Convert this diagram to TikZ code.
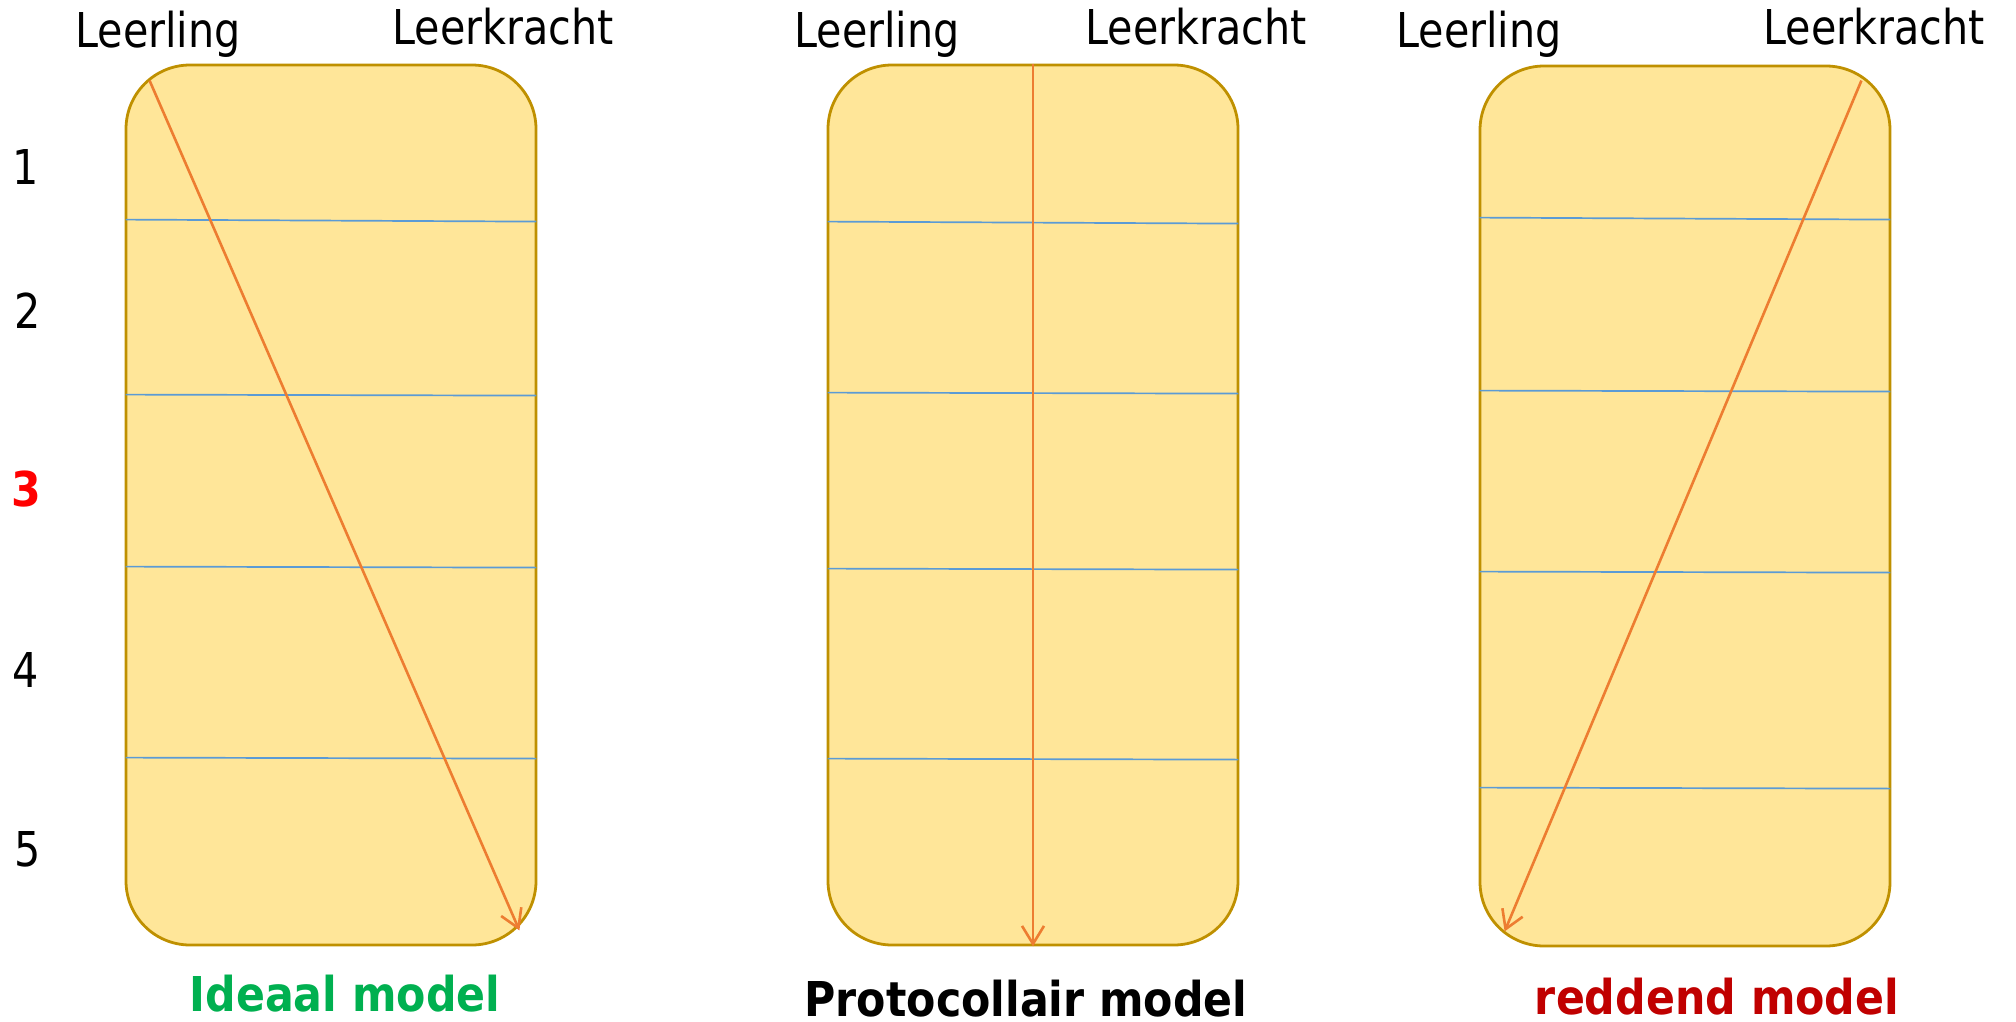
\documentclass[tikz,border=0pt]{standalone}
\usepackage{fontspec}
\setmainfont{DejaVu Sans}[FakeStretch=0.86]
\newfontfamily\modelfont{DejaVu Sans}[FakeStretch=0.89]
\usetikzlibrary{arrows.meta,calc}
\definecolor{boxfill}{HTML}{FFE699}
\definecolor{boxline}{HTML}{BF9000}
\definecolor{sepline}{HTML}{5B9BD5}
\definecolor{arrowc}{HTML}{ED7D31}
\definecolor{goodgreen}{HTML}{00B050}
\definecolor{darkred}{HTML}{C00000}

\begin{document}
\begin{tikzpicture}[x=1pt,y=-1pt,>={Straight Barb[length=18pt,width=22pt]}]
\tikzstyle{model} = [rectangle, draw=boxline, fill=boxfill, line width=2.8pt, rounded corners=64pt, minimum width=410pt, minimum height=880pt, inner sep=0pt]
\tikzstyle{role} = [font=\fontsize{48}{58}\selectfont, anchor=base, inner sep=0pt]
\tikzstyle{phase} = [font=\fontsize{48}{58}\selectfont, inner sep=0pt]
\tikzstyle{splitline} = [draw=sepline, line width=1.7pt]
\tikzstyle{flow} = [->, draw=arrowc, line width=2.6pt]
\tikzstyle{caption} = [font=\modelfont\bfseries\fontsize{48}{58}\selectfont, anchor=base, inner sep=0pt]
\useasboundingbox (0,0) rectangle (2016,1022);

\node[model] (ideaal) at (331,505) {};
\node[model] (protocol) at (1033,505) {};
\node[model] (reddend) at (1685,506) {};

\foreach \a/\b in {156/158, 331/332, 503/504, 694/695}
  \draw[splitline] ($(ideaal.north west)+(1,\a)$) -- ($(ideaal.north east)+(-1,\b)$);
\foreach \a/\b in {158/160, 329/330, 505/506, 695/696}
  \draw[splitline] ($(protocol.north west)+(1,\a)$) -- ($(protocol.north east)+(-1,\b)$);
\foreach \a/\b in {153/155, 326/327, 507/508, 723/724}
  \draw[splitline] ($(reddend.north west)+(1,\a)$) -- ($(reddend.north east)+(-1,\b)$);

\coordinate (i-start) at ($(ideaal.north west)+(25,17)$);
\coordinate (i-end) at ($(ideaal.south east)+(-18,-16)$);
\coordinate (r-start) at ($(reddend.north east)+(-30,16)$);
\coordinate (r-end) at ($(reddend.south west)+(26,-16)$);
\draw[flow] (i-start) -- (i-end);
\draw[flow] (protocol.north) -- (protocol.south);
\draw[flow] (r-start) -- (r-end);

\node[role] (leerling1) at (158,48) {Leerling};
\node[role] (leerkracht1) at (503,45) {Leerkracht};
\node[role] (leerling2) at (877,48) {Leerling};
\node[role] (leerkracht2) at (1196,45) {Leerkracht};
\node[role] (leerling3) at (1479,48) {Leerling};
\node[role] (leerkracht3) at (1874,45) {Leerkracht};

\node[phase] (n1) at (26,167) {1};
\node[phase] (n2) at (28,311) {2};
\node[phase, text=red, font=\modelfont\bfseries\fontsize{48}{58}\selectfont] (n3) at (26,489) {3};
\node[phase] (n4) at (26,670) {4};
\node[phase] (n5) at (28,849) {5};

\node[caption, text=goodgreen] (cap1) at (345,1011) {Ideaal model};
\node[caption, text=black] (cap2) at (1026,1016) {Protocollair model};
\node[caption, text=darkred] (cap3) at (1717,1014) {reddend model};
\end{tikzpicture}
\end{document}
